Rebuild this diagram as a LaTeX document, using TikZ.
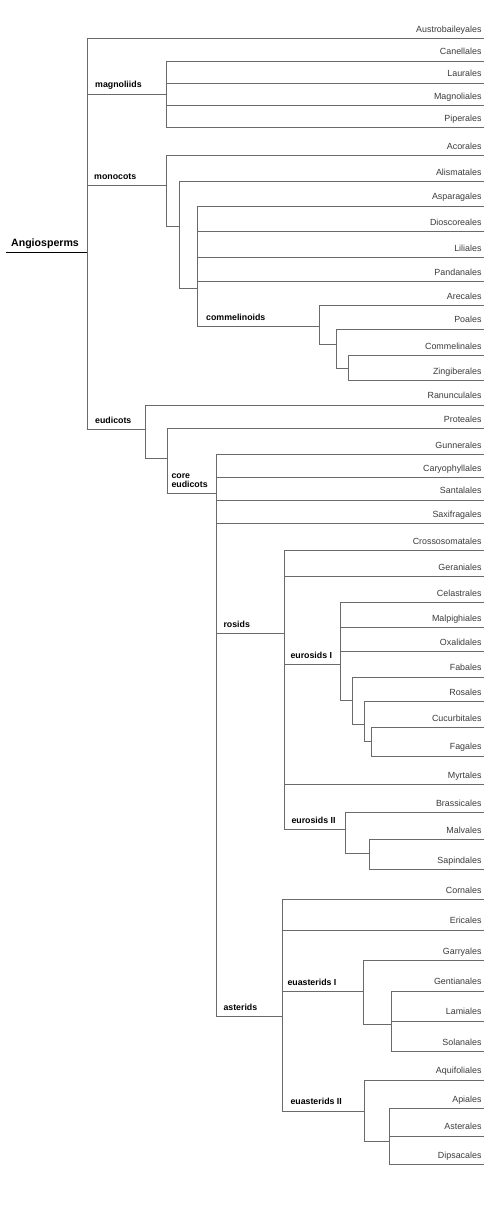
\documentclass[tikz,border=0pt]{standalone}
\usepackage{fontspec}
\setmainfont{Liberation Sans}
\definecolor{linegray}{HTML}{6A6A6A}
\definecolor{textgray}{HTML}{3A3A3A}
\begin{document}
\begin{tikzpicture}[x=1pt,y=-1pt,
  branch/.style={draw=linegray,line width=0.9pt},
  leaflab/.style={anchor=base east,inner sep=0pt,text=textgray,font=\fontsize{8.9}{10}\selectfont},
  cladelab/.style={anchor=base west,inner sep=0pt,text=black,font=\fontsize{8.8}{9}\selectfont\bfseries},
  rootlab/.style={anchor=base,inner sep=0pt,text=black,font=\fontsize{10.6}{12}\selectfont\bfseries}]
\useasboundingbox (0,0) rectangle (500,1223);
% internal nodes
\foreach \n/\x/\y in {R/87.3/252.7, mag/166.3/94.3, mon/166.3/185.3, monA/179.3/226.7,
  monB/197/288.3, com/319.3/326.7, comA/336/344.3, comB/348/368.3, eud/145.7/429.3,
  eudA/167.3/458.3, core/216.7/493.3, ros/284.3/633.3, eu1/340.7/664.3, eu1A/352.3/700,
  eu1B/364.7/724.3, eu1C/371.7/741, eu2/345.7/829.3, eu2A/369.7/853, ast/282.7/1016.7,
  ea1/363/991.3, ea1A/391/1024, ea2/364/1111, ea2A/389.7/1141.3}
  {\coordinate (\n) at (\x,\y);}
% root
\coordinate (A0) at (6,252.7);
\draw[line width=0.9pt,black] (A0) -- (R);
\node[rootlab] (angio) at (45,246) {Angiosperms};
% internal edges
\foreach \p/\c in {R/mag, R/mon, R/eud, mon/monA, monA/monB, monB/com, com/comA, comA/comB,
  eud/eudA, eudA/core, core/ros, core/ast, ros/eu1, ros/eu2, eu1/eu1A, eu1A/eu1B, eu1B/eu1C,
  eu2/eu2A, ast/ea1, ast/ea2, ea1/ea1A, ea2/ea2A}
  {\draw[branch] (\p) |- (\c);}
% leaves
\foreach \n/\y/\p in {Austrobaileyales/38.7/R, Canellales/61.3/mag, Laurales/83.3/mag,
  Magnoliales/105.7/mag, Piperales/127.7/mag, Acorales/155.7/mon, Alismatales/181.7/monA,
  Asparagales/206/monB, Dioscoreales/231.7/monB, Liliales/257.3/monB, Pandanales/281.3/monB,
  Arecales/305.3/com, Poales/329/comA, Commelinales/355.3/comB, Zingiberales/380.3/comB,
  Ranunculales/405/eud, Proteales/428.7/eudA, Gunnerales/454.3/core,
  Caryophyllales/477.7/core, Santalales/500/core, Saxifragales/523.3/core,
  Crossosomatales/550.3/ros, Geraniales/576.7/ros, Celastrales/602.7/eu1,
  Malpighiales/627.7/eu1, Oxalidales/651.7/eu1, Fabales/677/eu1A, Rosales/701.7/eu1B,
  Cucurbitales/727.7/eu1C, Fagales/756/eu1C, Myrtales/784.7/ros, Brassicales/812.3/eu2,
  Malvales/839.3/eu2A, Sapindales/869.3/eu2A, Cornales/899.7/ast, Ericales/930/ast,
  Garryales/960.3/ea1, Gentianales/991/ea1A, Lamiales/1021/ea1A, Solanales/1051.3/ea1A,
  Aquifoliales/1080/ea2, Apiales/1108.3/ea2A, Asterales/1136/ea2A, Dipsacales/1164.3/ea2A}
  {\coordinate (\n) at (484,\y);
   \draw[branch] (\p) |- (\n);
   \node[leaflab] (\n-t) at ([shift={(-2.3,-6.3)}]\n) {\n};}
% clade labels
\node[cladelab] (l-mag) at (95,88) {magnoliids};
\node[cladelab] (l-mon) at (94,179) {monocots};
\node[cladelab] (l-com) at (206,320.4) {commelinoids};
\node[cladelab] (l-eud) at (95,423) {eudicots};
\node[cladelab] (l-core) at (171.3,478.5) {core};
\node[cladelab] (l-core2) at (171.3,487.5) {eudicots};
\node[cladelab] (l-ros) at (223.3,627) {rosids};
\node[cladelab] (l-eu1) at (290.3,658) {eurosids I};
\node[cladelab] (l-eu2) at (291.3,823) {eurosids II};
\node[cladelab] (l-ea1) at (287.3,985) {euasterids I};
\node[cladelab] (l-ast) at (223.3,1010.4) {asterids};
\node[cladelab] (l-ea2) at (290.3,1104.7) {euasterids II};
\end{tikzpicture}
\end{document}
